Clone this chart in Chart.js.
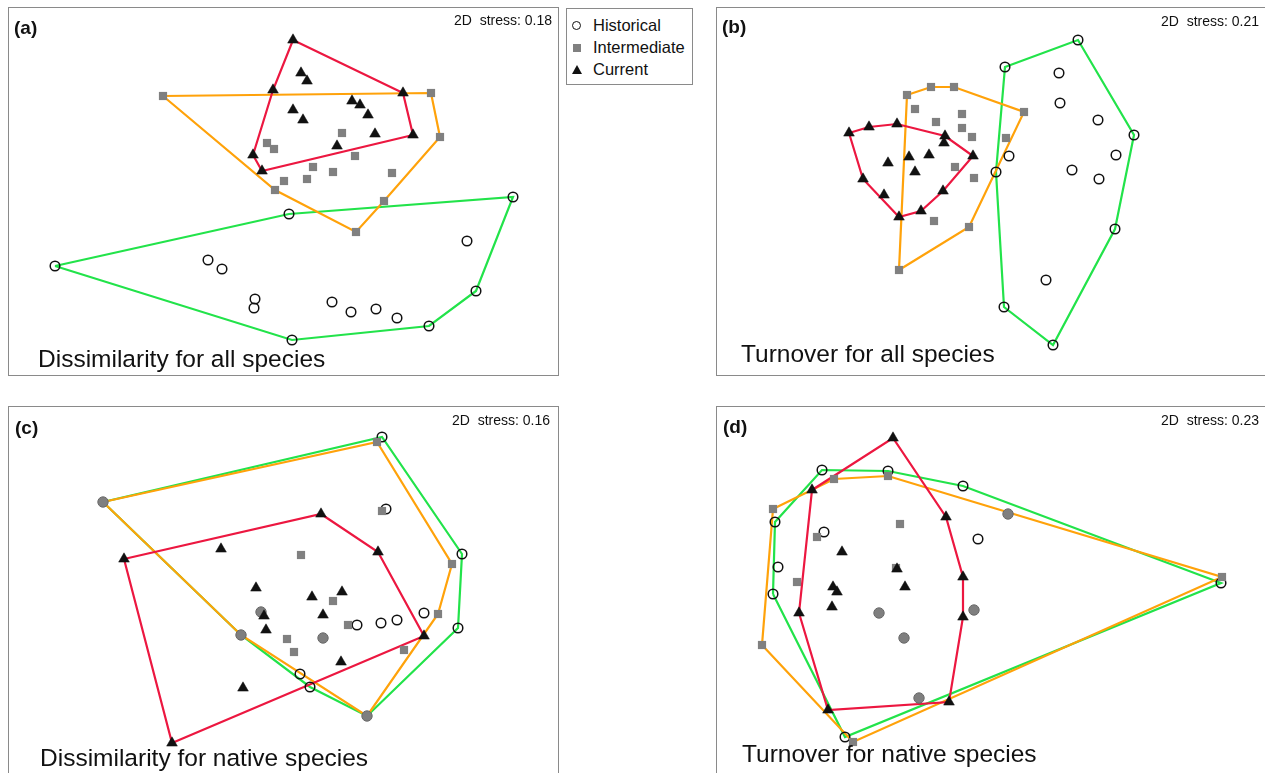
<!DOCTYPE html>
<html>
<head>
<meta charset="utf-8">
<script src="https://cdn.jsdelivr.net/npm/chart.js@4.4.1/dist/chart.umd.min.js"></script>
<style>
  body { margin:0; background:#fff; width:1265px; height:773px; overflow:hidden; position:relative;
         font-family:"Liberation Sans", Arial, sans-serif; }
  .panel { position:absolute; width:549px; height:367px; border:1px solid #8a8a8a; background:#fff; }
  .panel canvas { display:block; }
  #legend { position:absolute; left:566px; top:8px; width:125px; height:75px; border:1px solid #8a8a8a;
            font-size:16.5px; color:#111; }
  #legend .row { position:absolute; left:26px; line-height:18px; white-space:nowrap; }
  #legend .mk { position:absolute; }
  .mk.circ { left:3px; width:7px; height:7px; border:1.5px solid #111; border-radius:50%; }
  .mk.sq { left:3px; width:8px; height:8px; background:#808080; }
  .mk.tri { left:2px; width:0; height:0; border-left:5px solid transparent; border-right:5px solid transparent;
            border-bottom:9px solid #111; }
</style>
</head>
<body>
<div class="panel" style="left:8px;top:7px"><canvas id="pa" width="549" height="367"></canvas></div>
<div class="panel" style="left:716px;top:7px"><canvas id="pb" width="549" height="367"></canvas></div>
<div class="panel" style="left:8px;top:406px"><canvas id="pc" width="549" height="367"></canvas></div>
<div class="panel" style="left:716px;top:406px"><canvas id="pd" width="549" height="367"></canvas></div>

<div id="legend">
  <div class="row" style="top:7px"><span class="mk circ" style="left:-21px;top:5px"></span>Historical</div>
  <div class="row" style="top:29px"><span class="mk sq" style="left:-20px;top:6px"></span>Intermediate</div>
  <div class="row" style="top:51px"><span class="mk tri" style="left:-21px;top:5px"></span>Current</div>
</div>

<script>
// NMDS site scores (axis 1, axis 2) for each sampling period.
// Shared sites: historical and intermediate samples that plot at the same position.

// (a) Dissimilarity for all species
const histA = [[-2.29,-0.73],[0.05,-0.21],[2.29,-0.04],[1.83,-0.48],[1.92,-0.98],[1.45,-1.33],[0.08,-1.47],
  [-0.76,-0.67],[-0.62,-0.76],[-0.29,-1.06],[-0.30,-1.15],[0.48,-1.09],[0.67,-1.19],[0.92,-1.16],[1.13,-1.25]];
const interA = [[-1.21,0.97],[1.47,1.00],[1.56,0.56],[-0.17,0.50],[-0.10,0.44],[0.58,0.60],[0.71,0.37],
  [0.29,0.26],[0.49,0.21],[1.08,0.20],[0.00,0.12],[0.23,0.14],[-0.09,0.03],[1.00,-0.08],[0.72,-0.39]];
const currA = [[0.09,1.53],[-0.11,1.03],[-0.31,0.38],[-0.22,0.22],[0.17,1.20],[0.23,1.12],[1.19,1.00],
  [0.68,0.92],[0.76,0.88],[0.09,0.83],[0.19,0.73],[0.84,0.78],[0.91,0.59],[1.29,0.58],[0.53,0.47]];
const sharedA = [];

// (b) Turnover for all species
const histB = [[0.86,1.53],[0.13,1.26],[0.67,1.20],[0.68,0.90],[1.06,0.73],[1.42,0.58],[0.17,0.37],
  [1.24,0.38],[0.04,0.21],[0.80,0.23],[1.07,0.14],[1.23,-0.36],[0.54,-0.87],[0.12,-1.14],[0.61,-1.52]];
const interB = [[-0.85,0.98],[-0.61,1.06],[-0.38,1.06],[-0.77,0.84],[-0.56,0.71],[-0.30,0.79],[-0.30,0.65],
  [-0.20,0.56],[-0.37,0.26],[-0.18,0.15],[-0.58,-0.28],[-0.23,-0.34],[-0.93,-0.77],[0.32,0.81],[0.14,0.55]];
const currB = [[-1.43,0.60],[-1.23,0.66],[-0.95,0.69],[-0.47,0.57],[-0.48,0.50],[-0.19,0.37],[-1.04,0.30],
  [-0.83,0.36],[-0.63,0.38],[-0.77,0.21],[-1.29,0.14],[-1.08,-0.02],[-0.49,0.02],[-0.93,-0.24],[-0.71,-0.18]];
const sharedB = [];

// (c) Dissimilarity for native species
const histC = [[0.98,1.55],[1.02,0.83],[1.78,0.38],[1.40,-0.21],[1.13,-0.28],[0.97,-0.31],[0.73,-0.33],
  [1.74,-0.36],[0.16,-0.82],[0.26,-0.95]];
const interC = [[0.93,1.50],[0.98,0.81],[0.17,0.37],[1.68,0.28],[0.49,-0.09],[1.54,-0.22],[0.64,-0.33],
  [0.03,-0.47],[0.10,-0.60],[1.20,-0.58]];
const currC = [[-1.60,0.33],[-0.63,0.43],[-0.28,0.04],[-0.20,-0.24],[-0.18,-0.38],[-0.41,-0.96],[-1.12,-1.51],
  [0.37,0.78],[0.94,0.40],[0.28,-0.05],[0.58,0.00],[0.39,-0.23],[1.40,-0.44],[0.57,-0.70]];
const sharedC = [[-1.81,0.90],[-0.23,-0.20],[-0.43,-0.43],[0.39,-0.46],[0.83,-1.24]];

// (d) Turnover for native species
const histD = [[-1.70,1.22],[-1.04,1.21],[-0.29,1.06],[-2.17,0.70],[-1.68,0.60],[-0.14,0.53],[-2.14,0.25],
  [-2.19,-0.02],[-1.47,-1.45],[2.29,0.09]];
const interD = [[-2.19,0.83],[-1.58,1.13],[-1.04,1.16],[-0.92,0.68],[-1.75,0.55],[-0.96,0.24],[-1.95,0.10],
  [-2.30,-0.53],[-1.39,-1.50],[2.30,0.15]];
const currD = [[-0.99,1.54],[-1.80,1.02],[-0.46,0.75],[-1.50,0.40],[-0.95,0.23],[-1.59,0.05],[-1.55,0.00],
  [-0.87,0.05],[-0.29,0.15],[-1.93,-0.21],[-1.60,-0.15],[-0.29,-0.25],[-1.64,-1.18],[-0.43,-1.10]];
const sharedD = [[0.16,0.78],[-1.13,-0.21],[-0.88,-0.46],[-0.18,-0.18],[-0.73,-1.06]];

const stressValues = ['0.18', '0.21', '0.16', '0.23'];
const panelTags = ['(a)', '(b)', '(c)', '(d)'];
const panelTitles = ['Dissimilarity for all species', 'Turnover for all species',
                     'Dissimilarity for native species', 'Turnover for native species'];

// Shared axis extents for every ordination panel
const X_MIN = -2.75, X_MAX = 2.74, Y_MIN = -1.82, Y_MAX = 1.85;

const COL_HIST = '#22e34a', COL_INTER = '#ffa20a', COL_CURR = '#ec1740';
const FONT = '"Liberation Sans", Arial, sans-serif';

const toXY = arr => arr.map(p => ({ x: p[0], y: p[1] }));

// Andrew's monotone chain convex hull, returned closed for drawing
function convexHull(pts) {
  const p = pts.map(q => [q[0], q[1]]).sort((a, b) => a[0] - b[0] || a[1] - b[1]);
  if (p.length < 3) return p;
  const cross = (o, a, b) => (a[0] - o[0]) * (b[1] - o[1]) - (a[1] - o[1]) * (b[0] - o[0]);
  const lower = [], upper = [];
  for (const q of p) {
    while (lower.length >= 2 && cross(lower[lower.length - 2], lower[lower.length - 1], q) <= 0) lower.pop();
    lower.push(q);
  }
  for (let i = p.length - 1; i >= 0; i--) {
    const q = p[i];
    while (upper.length >= 2 && cross(upper[upper.length - 2], upper[upper.length - 1], q) <= 0) upper.pop();
    upper.push(q);
  }
  upper.pop(); lower.pop();
  const h = lower.concat(upper);
  h.push(h[0]);
  return h;
}

// Panel annotations: tag, stress value and panel title
const panelText = {
  id: 'panelText',
  afterDatasetsDraw(chart, args, o) {
    const ctx = chart.ctx;
    ctx.save();
    ctx.fillStyle = '#111';
    ctx.textBaseline = 'alphabetic';
    ctx.textAlign = 'left';
    ctx.font = 'bold 19px ' + FONT;
    ctx.fillText(o.tag, o.tagX, o.tagY);
    ctx.font = '14px ' + FONT;
    ctx.textAlign = 'right';
    ctx.fillText('2D  stress: ' + o.stress, o.stressX, o.stressY);
    ctx.font = '24.5px ' + FONT;
    ctx.textAlign = 'left';
    ctx.fillText(o.title, o.titleX, o.titleY);
    ctx.restore();
  }
};

function hullSet(points, color, order) {
  return {
    data: toXY(convexHull(points)),
    showLine: true, fill: false, tension: 0,
    borderColor: color, borderWidth: 2.2, pointRadius: 0, order: order
  };
}

function makePanel(id, idx, hist, inter, curr, shared, textPos) {
  const datasets = [
    hullSet(hist.concat(shared), COL_HIST, 12),
    hullSet(inter.concat(shared), COL_INTER, 11),
    hullSet(curr, COL_CURR, 10),
    { label: 'Historical', data: toXY(hist), pointStyle: 'circle', pointRadius: 4.8,
      pointBackgroundColor: 'rgba(255,255,255,0)', pointBorderColor: '#111', pointBorderWidth: 1.5, order: 4 },
    { label: 'Intermediate', data: toXY(inter), pointStyle: 'rect', pointRadius: 5.8,
      pointBackgroundColor: '#808080', pointBorderWidth: 0, order: 3 },
    { label: 'Shared', data: toXY(shared), pointStyle: 'circle', pointRadius: 5.2,
      pointBackgroundColor: '#7f7f7f', pointBorderColor: '#6a6a6a', pointBorderWidth: 1, order: 2 },
    { label: 'Current', data: toXY(curr), pointStyle: 'triangle', pointRadius: 6.2,
      pointBackgroundColor: '#111', pointBorderColor: '#111', pointBorderWidth: 0.5, order: 1 }
  ];
  new Chart(document.getElementById(id), {
    type: 'scatter',
    data: { datasets },
    options: {
      responsive: false, animation: false, devicePixelRatio: 1,
      layout: { padding: 0, autoPadding: false },
      scales: {
        x: { type: 'linear', display: false, min: X_MIN, max: X_MAX },
        y: { type: 'linear', display: false, min: Y_MIN, max: Y_MAX }
      },
      plugins: {
        legend: { display: false }, tooltip: { enabled: false },
        panelText: Object.assign({ tag: panelTags[idx], stress: stressValues[idx], title: panelTitles[idx] }, textPos)
      }
    },
    plugins: [panelText]
  });
}

makePanel('pa', 0, histA, interA, currA, sharedA,
  { tagX: 5, tagY: 26, stressX: 543, stressY: 17, titleX: 29, titleY: 359 });
makePanel('pb', 1, histB, interB, currB, sharedB,
  { tagX: 5, tagY: 25, stressX: 542, stressY: 18, titleX: 24, titleY: 354 });
makePanel('pc', 2, histC, interC, currC, sharedC,
  { tagX: 6, tagY: 27, stressX: 541, stressY: 18, titleX: 31, titleY: 359 });
makePanel('pd', 3, histD, interD, currD, sharedD,
  { tagX: 6, tagY: 26, stressX: 542, stressY: 18, titleX: 25, titleY: 355 });
</script>
</body>
</html>
